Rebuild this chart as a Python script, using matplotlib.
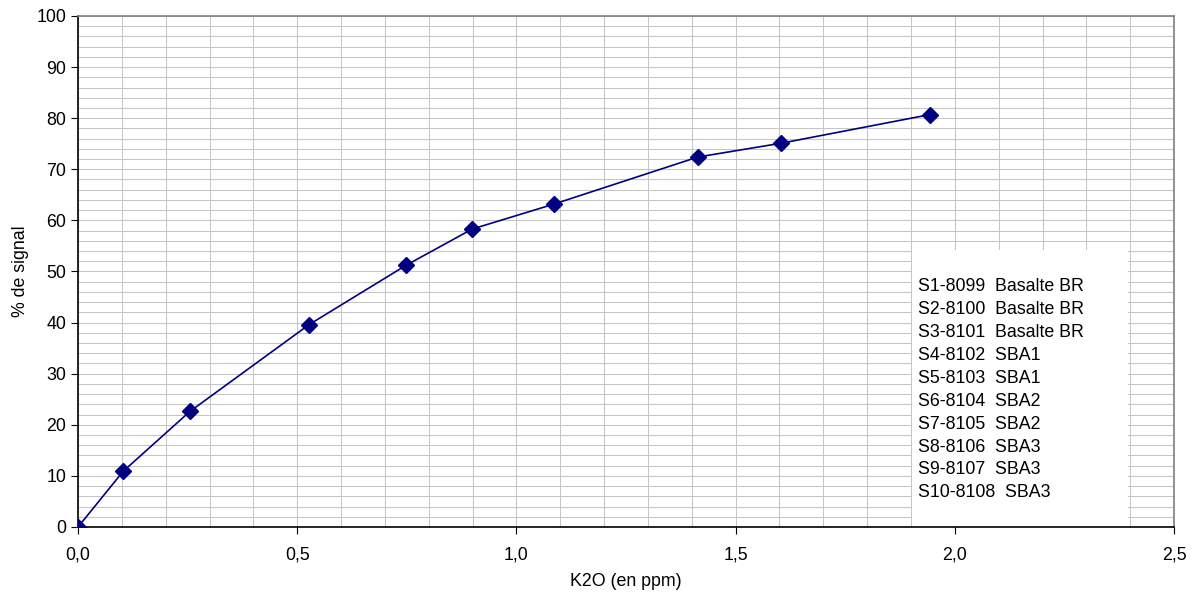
import matplotlib
matplotlib.use("Agg")
import matplotlib.pyplot as plt
from matplotlib.ticker import MultipleLocator, FuncFormatter
from matplotlib.patches import Rectangle

plt.rcParams["font.family"] = ["Liberation Sans", "DejaVu Sans"]

# Donnees
k2o = [0.0, 0.103, 0.255, 0.527, 0.748, 0.899, 1.086, 1.414, 1.604, 1.943]
signal = [0.0, 10.9, 22.6, 39.6, 51.2, 58.3, 63.2, 72.4, 75.1, 80.7]
echantillons = [
    "S1-8099  Basalte BR",
    "S2-8100  Basalte BR",
    "S3-8101  Basalte BR",
    "S4-8102  SBA1",
    "S5-8103  SBA1",
    "S6-8104  SBA2",
    "S7-8105  SBA2",
    "S8-8106  SBA3",
    "S9-8107  SBA3",
    "S10-8108  SBA3",
]

fig = plt.figure(figsize=(11.97, 5.96), dpi=100)
ax = fig.add_axes([0.0652, 0.1158, 0.9156, 0.8574])

# Grille
ax.set_xlim(0, 2.5)
ax.set_ylim(0, 100)
ax.xaxis.set_major_locator(MultipleLocator(0.5))
ax.xaxis.set_minor_locator(MultipleLocator(0.1))
ax.yaxis.set_major_locator(MultipleLocator(10))
ax.yaxis.set_minor_locator(MultipleLocator(2))
ax.grid(which="both", color="#c6c6c6", linewidth=0.75)
ax.set_axisbelow(True)

ax.plot(k2o, signal, color="#000080", linewidth=1.2, marker="D",
        markersize=8.5, markerfacecolor="#000080", markeredgecolor="#000080", zorder=3)

# Cadre avec la liste des echantillons
ax.add_patch(Rectangle((0.761, 0.0), 0.197, 0.542, transform=ax.transAxes,
                       facecolor="white", edgecolor="none", zorder=2))
for i, txt in enumerate(echantillons):
    ax.text(0.7665, 0.470 - i * 0.0448, txt, transform=ax.transAxes,
            fontsize=12.8, va="center", ha="left", zorder=4)

fmt = FuncFormatter(lambda v, p: ("%.1f" % v).replace(".", ","))
ax.xaxis.set_major_formatter(fmt)
ax.tick_params(which="major", direction="out", length=5, labelsize=12.8, color="black")
ax.tick_params(axis="x", which="major", pad=9)
ax.tick_params(which="minor", length=0)

for s in ["left", "bottom"]:
    ax.spines[s].set_color("black")
    ax.spines[s].set_linewidth(1.2)
for s in ["top", "right"]:
    ax.spines[s].set_color("#808080")
    ax.spines[s].set_linewidth(1.2)

ax.set_xlabel("K2O (en ppm)", fontsize=12.8, labelpad=7)
ax.set_ylabel("% de signal", fontsize=12.8, labelpad=5)

fig.savefig("out.png", dpi=100)
